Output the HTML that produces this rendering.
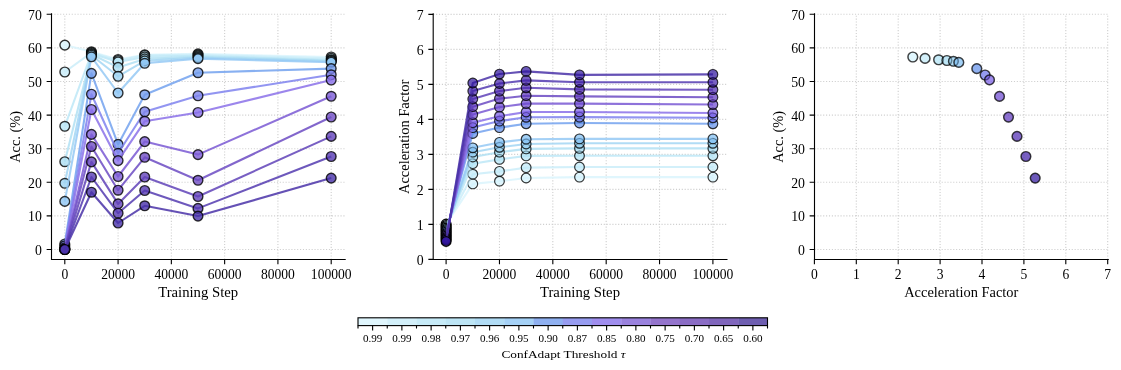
<!DOCTYPE html>
<html lang="en"><head><meta charset="utf-8"><title>ConfAdapt threshold plots</title>
<style>html,body{margin:0;padding:0;background:#fff}svg{display:block}</style>
</head><body>
<svg width="1121" height="370" viewBox="0 0 1121 370" font-family='"Liberation Serif", "DejaVu Serif", serif' fill="#000">
<rect width="1121" height="370" fill="#fff"/>
<path d="M64.80 259.5V14.3M118.08 259.5V14.3M171.36 259.5V14.3M224.64 259.5V14.3M277.92 259.5V14.3M331.20 259.5V14.3M51.5 249.50H344.6M51.5 215.90H344.6M51.5 182.30H344.6M51.5 148.70H344.6M51.5 115.10H344.6M51.5 81.50H344.6M51.5 47.90H344.6M51.5 14.30H344.6" stroke="#cfcfcf" stroke-width="1.11" stroke-dasharray="1.11 1.78" fill="none"/>
<polyline points="64.80,45.10 91.44,51.80 118.08,59.50 144.72,54.85 198.00,53.90 331.20,57.00" fill="none" stroke="#dbf4fd" stroke-opacity="0.85" stroke-width="2.08" stroke-linejoin="round"/>
<g fill="#d8f4fc" fill-opacity="0.8" stroke="#000" stroke-opacity="0.8" stroke-width="1.39">
<circle cx="64.80" cy="45.10" r="4.86"/>
<circle cx="91.44" cy="51.80" r="4.86"/>
<circle cx="118.08" cy="59.50" r="4.86"/>
<circle cx="144.72" cy="54.85" r="4.86"/>
<circle cx="198.00" cy="53.90" r="4.86"/>
<circle cx="331.20" cy="57.00" r="4.86"/>
</g>
<polyline points="64.80,72.00 91.44,52.60 118.08,60.60 144.72,55.20 198.00,54.80 331.20,58.40" fill="none" stroke="#cbedf9" stroke-opacity="0.85" stroke-width="2.08" stroke-linejoin="round"/>
<g fill="#c8ecf9" fill-opacity="0.8" stroke="#000" stroke-opacity="0.8" stroke-width="1.39">
<circle cx="64.80" cy="72.00" r="4.86"/>
<circle cx="91.44" cy="52.60" r="4.86"/>
<circle cx="118.08" cy="60.60" r="4.86"/>
<circle cx="144.72" cy="55.20" r="4.86"/>
<circle cx="198.00" cy="54.80" r="4.86"/>
<circle cx="331.20" cy="58.40" r="4.86"/>
</g>
<polyline points="64.80,126.30 91.44,53.50 118.08,62.00 144.72,56.90 198.00,55.80 331.20,59.80" fill="none" stroke="#bde7f7" stroke-opacity="0.85" stroke-width="2.08" stroke-linejoin="round"/>
<g fill="#b9e6f6" fill-opacity="0.8" stroke="#000" stroke-opacity="0.8" stroke-width="1.39">
<circle cx="64.80" cy="126.30" r="4.86"/>
<circle cx="91.44" cy="53.50" r="4.86"/>
<circle cx="118.08" cy="62.00" r="4.86"/>
<circle cx="144.72" cy="56.90" r="4.86"/>
<circle cx="198.00" cy="55.80" r="4.86"/>
<circle cx="331.20" cy="59.80" r="4.86"/>
</g>
<polyline points="64.80,161.70 91.44,54.30 118.08,67.40 144.72,58.90 198.00,56.70 331.20,60.50" fill="none" stroke="#b1e0f3" stroke-opacity="0.85" stroke-width="2.08" stroke-linejoin="round"/>
<g fill="#acdef2" fill-opacity="0.8" stroke="#000" stroke-opacity="0.8" stroke-width="1.39">
<circle cx="64.80" cy="161.70" r="4.86"/>
<circle cx="91.44" cy="54.30" r="4.86"/>
<circle cx="118.08" cy="67.40" r="4.86"/>
<circle cx="144.72" cy="58.90" r="4.86"/>
<circle cx="198.00" cy="56.70" r="4.86"/>
<circle cx="331.20" cy="60.50" r="4.86"/>
</g>
<polyline points="64.80,183.30 91.44,55.20 118.08,76.30 144.72,60.90 198.00,57.60 331.20,61.30" fill="none" stroke="#a3d6f3" stroke-opacity="0.85" stroke-width="2.08" stroke-linejoin="round"/>
<g fill="#9ed3f2" fill-opacity="0.8" stroke="#000" stroke-opacity="0.8" stroke-width="1.39">
<circle cx="64.80" cy="183.30" r="4.86"/>
<circle cx="91.44" cy="55.20" r="4.86"/>
<circle cx="118.08" cy="76.30" r="4.86"/>
<circle cx="144.72" cy="60.90" r="4.86"/>
<circle cx="198.00" cy="57.60" r="4.86"/>
<circle cx="331.20" cy="61.30" r="4.86"/>
</g>
<polyline points="64.80,201.40 91.44,56.80 118.08,93.00 144.72,63.30 198.00,58.60 331.20,62.20" fill="none" stroke="#95c9f4" stroke-opacity="0.85" stroke-width="2.08" stroke-linejoin="round"/>
<g fill="#8ec6f4" fill-opacity="0.8" stroke="#000" stroke-opacity="0.8" stroke-width="1.39">
<circle cx="64.80" cy="201.40" r="4.86"/>
<circle cx="91.44" cy="56.80" r="4.86"/>
<circle cx="118.08" cy="93.00" r="4.86"/>
<circle cx="144.72" cy="63.30" r="4.86"/>
<circle cx="198.00" cy="58.60" r="4.86"/>
<circle cx="331.20" cy="62.20" r="4.86"/>
</g>
<polyline points="64.80,244.00 91.44,73.35 118.08,144.40 144.72,94.80 198.00,72.70 331.20,68.60" fill="none" stroke="#73a2ef" stroke-opacity="0.85" stroke-width="2.08" stroke-linejoin="round"/>
<g fill="#739cec" fill-opacity="0.8" stroke="#000" stroke-opacity="0.8" stroke-width="1.39">
<circle cx="64.80" cy="244.00" r="4.86"/>
<circle cx="91.44" cy="73.35" r="4.86"/>
<circle cx="118.08" cy="144.40" r="4.86"/>
<circle cx="144.72" cy="94.80" r="4.86"/>
<circle cx="198.00" cy="72.70" r="4.86"/>
<circle cx="331.20" cy="68.60" r="4.86"/>
</g>
<polyline points="64.80,245.80 91.44,94.20 118.08,153.30 144.72,111.70 198.00,95.75 331.20,74.80" fill="none" stroke="#7f83ef" stroke-opacity="0.85" stroke-width="2.08" stroke-linejoin="round"/>
<g fill="#7d83ec" fill-opacity="0.8" stroke="#000" stroke-opacity="0.8" stroke-width="1.39">
<circle cx="64.80" cy="245.80" r="4.86"/>
<circle cx="91.44" cy="94.20" r="4.86"/>
<circle cx="118.08" cy="153.30" r="4.86"/>
<circle cx="144.72" cy="111.70" r="4.86"/>
<circle cx="198.00" cy="95.75" r="4.86"/>
<circle cx="331.20" cy="74.80" r="4.86"/>
</g>
<polyline points="64.80,247.80 91.44,109.50 118.08,160.60 144.72,121.30 198.00,112.50 331.20,80.00" fill="none" stroke="#8b71e9" stroke-opacity="0.85" stroke-width="2.08" stroke-linejoin="round"/>
<g fill="#886fea" fill-opacity="0.8" stroke="#000" stroke-opacity="0.8" stroke-width="1.39">
<circle cx="64.80" cy="247.80" r="4.86"/>
<circle cx="91.44" cy="109.50" r="4.86"/>
<circle cx="118.08" cy="160.60" r="4.86"/>
<circle cx="144.72" cy="121.30" r="4.86"/>
<circle cx="198.00" cy="112.50" r="4.86"/>
<circle cx="331.20" cy="80.00" r="4.86"/>
</g>
<polyline points="64.80,249.00 91.44,134.40 118.08,176.50 144.72,141.60 198.00,154.60 331.20,96.30" fill="none" stroke="#7a59d3" stroke-opacity="0.85" stroke-width="2.08" stroke-linejoin="round"/>
<g fill="#7c5bd6" fill-opacity="0.8" stroke="#000" stroke-opacity="0.8" stroke-width="1.39">
<circle cx="64.80" cy="249.00" r="4.86"/>
<circle cx="91.44" cy="134.40" r="4.86"/>
<circle cx="118.08" cy="176.50" r="4.86"/>
<circle cx="144.72" cy="141.60" r="4.86"/>
<circle cx="198.00" cy="154.60" r="4.86"/>
<circle cx="331.20" cy="96.30" r="4.86"/>
</g>
<polyline points="64.80,249.50 91.44,146.50 118.08,190.20 144.72,157.30 198.00,180.30 331.20,117.00" fill="none" stroke="#6c4bc3" stroke-opacity="0.85" stroke-width="2.08" stroke-linejoin="round"/>
<g fill="#6f4cc4" fill-opacity="0.8" stroke="#000" stroke-opacity="0.8" stroke-width="1.39">
<circle cx="64.80" cy="249.50" r="4.86"/>
<circle cx="91.44" cy="146.50" r="4.86"/>
<circle cx="118.08" cy="190.20" r="4.86"/>
<circle cx="144.72" cy="157.30" r="4.86"/>
<circle cx="198.00" cy="180.30" r="4.86"/>
<circle cx="331.20" cy="117.00" r="4.86"/>
</g>
<polyline points="64.80,249.50 91.44,161.90 118.08,203.90 144.72,177.00 198.00,196.50 331.20,136.40" fill="none" stroke="#6043b8" stroke-opacity="0.85" stroke-width="2.08" stroke-linejoin="round"/>
<g fill="#6342ba" fill-opacity="0.8" stroke="#000" stroke-opacity="0.8" stroke-width="1.39">
<circle cx="64.80" cy="249.50" r="4.86"/>
<circle cx="91.44" cy="161.90" r="4.86"/>
<circle cx="118.08" cy="203.90" r="4.86"/>
<circle cx="144.72" cy="177.00" r="4.86"/>
<circle cx="198.00" cy="196.50" r="4.86"/>
<circle cx="331.20" cy="136.40" r="4.86"/>
</g>
<polyline points="64.80,249.50 91.44,177.00 118.08,213.20 144.72,190.50 198.00,208.40 331.20,156.50" fill="none" stroke="#543bb0" stroke-opacity="0.85" stroke-width="2.08" stroke-linejoin="round"/>
<g fill="#563ab3" fill-opacity="0.8" stroke="#000" stroke-opacity="0.8" stroke-width="1.39">
<circle cx="64.80" cy="249.50" r="4.86"/>
<circle cx="91.44" cy="177.00" r="4.86"/>
<circle cx="118.08" cy="213.20" r="4.86"/>
<circle cx="144.72" cy="190.50" r="4.86"/>
<circle cx="198.00" cy="208.40" r="4.86"/>
<circle cx="331.20" cy="156.50" r="4.86"/>
</g>
<polyline points="64.80,249.50 91.44,192.20 118.08,223.00 144.72,205.80 198.00,216.10 331.20,178.10" fill="none" stroke="#4a33a8" stroke-opacity="0.85" stroke-width="2.08" stroke-linejoin="round"/>
<g fill="#4731a9" fill-opacity="0.8" stroke="#000" stroke-opacity="0.8" stroke-width="1.39">
<circle cx="64.80" cy="249.50" r="4.86"/>
<circle cx="91.44" cy="192.20" r="4.86"/>
<circle cx="118.08" cy="223.00" r="4.86"/>
<circle cx="144.72" cy="205.80" r="4.86"/>
<circle cx="198.00" cy="216.10" r="4.86"/>
<circle cx="331.20" cy="178.10" r="4.86"/>
</g>
<path d="M64.80 259.5v4.86M118.08 259.5v4.86M171.36 259.5v4.86M224.64 259.5v4.86M277.92 259.5v4.86M331.20 259.5v4.86M51.5 249.50h-4.86M51.5 215.90h-4.86M51.5 182.30h-4.86M51.5 148.70h-4.86M51.5 115.10h-4.86M51.5 81.50h-4.86M51.5 47.90h-4.86M51.5 14.30h-4.86" stroke="#000" stroke-width="1.11" fill="none"/>
<path d="M51.5 13.75V259.5H345.16" stroke="#000" stroke-width="1.11" fill="none" stroke-linecap="square" stroke-linejoin="miter"/>
<text x="64.8" y="279.0" font-size="13.8" text-anchor="middle" textLength="6.8" lengthAdjust="spacingAndGlyphs">0</text>
<text x="118.08" y="279.0" font-size="13.8" text-anchor="middle" textLength="33.9" lengthAdjust="spacingAndGlyphs">20000</text>
<text x="171.36" y="279.0" font-size="13.8" text-anchor="middle" textLength="33.9" lengthAdjust="spacingAndGlyphs">40000</text>
<text x="224.64" y="279.0" font-size="13.8" text-anchor="middle" textLength="33.9" lengthAdjust="spacingAndGlyphs">60000</text>
<text x="277.92" y="279.0" font-size="13.8" text-anchor="middle" textLength="33.9" lengthAdjust="spacingAndGlyphs">80000</text>
<text x="331.2" y="279.0" font-size="13.8" text-anchor="middle" textLength="40.7" lengthAdjust="spacingAndGlyphs">100000</text>
<text x="41.94" y="254.9" font-size="13.8" text-anchor="end" textLength="6.9" lengthAdjust="spacingAndGlyphs">0</text>
<text x="41.94" y="221.3" font-size="13.8" text-anchor="end" textLength="13.8" lengthAdjust="spacingAndGlyphs">10</text>
<text x="41.94" y="187.7" font-size="13.8" text-anchor="end" textLength="13.8" lengthAdjust="spacingAndGlyphs">20</text>
<text x="41.94" y="154.1" font-size="13.8" text-anchor="end" textLength="13.8" lengthAdjust="spacingAndGlyphs">30</text>
<text x="41.94" y="120.5" font-size="13.8" text-anchor="end" textLength="13.8" lengthAdjust="spacingAndGlyphs">40</text>
<text x="41.94" y="86.9" font-size="13.8" text-anchor="end" textLength="13.8" lengthAdjust="spacingAndGlyphs">50</text>
<text x="41.94" y="53.3" font-size="13.8" text-anchor="end" textLength="13.8" lengthAdjust="spacingAndGlyphs">60</text>
<text x="41.94" y="19.7" font-size="13.8" text-anchor="end" textLength="13.8" lengthAdjust="spacingAndGlyphs">70</text>
<text x="198.2" y="297.0" font-size="13.8" text-anchor="middle" textLength="80" lengthAdjust="spacingAndGlyphs">Training Step</text>
<text x="20.5" y="136.9" font-size="13.8" text-anchor="middle" textLength="51.8" lengthAdjust="spacingAndGlyphs" transform="rotate(-90 20.5 136.9)">Acc. (%)</text>
<path d="M446.10 259.5V14.3M499.46 259.5V14.3M552.82 259.5V14.3M606.18 259.5V14.3M659.54 259.5V14.3M712.90 259.5V14.3M433.2 224.40H726.4M433.2 189.40H726.4M433.2 154.40H726.4M433.2 119.40H726.4M433.2 84.40H726.4M433.2 49.40H726.4M433.2 14.40H726.4" stroke="#cfcfcf" stroke-width="1.11" stroke-dasharray="1.11 1.78" fill="none"/>
<polyline points="446.10,224.10 472.78,183.90 499.46,181.20 526.14,178.00 579.50,177.10 712.90,177.10" fill="none" stroke="#dbf4fd" stroke-opacity="0.85" stroke-width="2.08" stroke-linejoin="round"/>
<g fill="#d3f2fc" fill-opacity="0.7" stroke="#000" stroke-opacity="0.7" stroke-width="1.11">
<circle cx="446.10" cy="224.10" r="4.86" stroke-opacity="0.95" stroke-width="1.3"/>
<circle cx="472.78" cy="183.90" r="4.86"/>
<circle cx="499.46" cy="181.20" r="4.86"/>
<circle cx="526.14" cy="178.00" r="4.86"/>
<circle cx="579.50" cy="177.10" r="4.86"/>
<circle cx="712.90" cy="177.10" r="4.86"/>
</g>
<polyline points="446.10,225.43 472.78,174.20 499.46,171.40 526.14,167.60 579.50,167.00 712.90,167.00" fill="none" stroke="#cbedf9" stroke-opacity="0.85" stroke-width="2.08" stroke-linejoin="round"/>
<g fill="#c0eaf8" fill-opacity="0.7" stroke="#000" stroke-opacity="0.7" stroke-width="1.11">
<circle cx="446.10" cy="225.43" r="4.86" stroke-opacity="0.95" stroke-width="1.3"/>
<circle cx="472.78" cy="174.20" r="4.86"/>
<circle cx="499.46" cy="171.40" r="4.86"/>
<circle cx="526.14" cy="167.60" r="4.86"/>
<circle cx="579.50" cy="167.00" r="4.86"/>
<circle cx="712.90" cy="167.00" r="4.86"/>
</g>
<polyline points="446.10,226.76 472.78,163.70 499.46,159.40 526.14,155.90 579.50,155.80 712.90,155.80" fill="none" stroke="#bde7f7" stroke-opacity="0.85" stroke-width="2.08" stroke-linejoin="round"/>
<g fill="#afe2f5" fill-opacity="0.7" stroke="#000" stroke-opacity="0.7" stroke-width="1.11">
<circle cx="446.10" cy="226.76" r="4.86" stroke-opacity="0.95" stroke-width="1.3"/>
<circle cx="472.78" cy="163.70" r="4.86"/>
<circle cx="499.46" cy="159.40" r="4.86"/>
<circle cx="526.14" cy="155.90" r="4.86"/>
<circle cx="579.50" cy="155.80" r="4.86"/>
<circle cx="712.90" cy="155.80" r="4.86"/>
</g>
<polyline points="446.10,228.09 472.78,157.00 499.46,152.20 526.14,148.90 579.50,148.40 712.90,148.40" fill="none" stroke="#b1e0f3" stroke-opacity="0.85" stroke-width="2.08" stroke-linejoin="round"/>
<g fill="#a1daf1" fill-opacity="0.7" stroke="#000" stroke-opacity="0.7" stroke-width="1.11">
<circle cx="446.10" cy="228.09" r="4.86" stroke-opacity="0.95" stroke-width="1.3"/>
<circle cx="472.78" cy="157.00" r="4.86"/>
<circle cx="499.46" cy="152.20" r="4.86"/>
<circle cx="526.14" cy="148.90" r="4.86"/>
<circle cx="579.50" cy="148.40" r="4.86"/>
<circle cx="712.90" cy="148.40" r="4.86"/>
</g>
<polyline points="446.10,229.42 472.78,152.20 499.46,147.30 526.14,144.00 579.50,143.30 712.90,143.30" fill="none" stroke="#a3d6f3" stroke-opacity="0.85" stroke-width="2.08" stroke-linejoin="round"/>
<g fill="#90cdf1" fill-opacity="0.7" stroke="#000" stroke-opacity="0.7" stroke-width="1.11">
<circle cx="446.10" cy="229.42" r="4.86" stroke-opacity="0.95" stroke-width="1.3"/>
<circle cx="472.78" cy="152.20" r="4.86"/>
<circle cx="499.46" cy="147.30" r="4.86"/>
<circle cx="526.14" cy="144.00" r="4.86"/>
<circle cx="579.50" cy="143.30" r="4.86"/>
<circle cx="712.90" cy="143.30" r="4.86"/>
</g>
<polyline points="446.10,230.75 472.78,147.80 499.46,142.40 526.14,139.20 579.50,138.90 712.90,138.90" fill="none" stroke="#95c9f4" stroke-opacity="0.85" stroke-width="2.08" stroke-linejoin="round"/>
<g fill="#7ebdf2" fill-opacity="0.7" stroke="#000" stroke-opacity="0.7" stroke-width="1.11">
<circle cx="446.10" cy="230.75" r="4.86" stroke-opacity="0.95" stroke-width="1.3"/>
<circle cx="472.78" cy="147.80" r="4.86"/>
<circle cx="499.46" cy="142.40" r="4.86"/>
<circle cx="526.14" cy="139.20" r="4.86"/>
<circle cx="579.50" cy="138.90" r="4.86"/>
<circle cx="712.90" cy="138.90" r="4.86"/>
</g>
<polyline points="446.10,232.08 472.78,133.50 499.46,127.60 526.14,123.80 579.50,123.00 712.90,123.80" fill="none" stroke="#73a2ef" stroke-opacity="0.85" stroke-width="2.08" stroke-linejoin="round"/>
<g fill="#5f8eea" fill-opacity="0.7" stroke="#000" stroke-opacity="0.7" stroke-width="1.11">
<circle cx="446.10" cy="232.08" r="4.86" stroke-opacity="0.95" stroke-width="1.3"/>
<circle cx="472.78" cy="133.50" r="4.86"/>
<circle cx="499.46" cy="127.60" r="4.86"/>
<circle cx="526.14" cy="123.80" r="4.86"/>
<circle cx="579.50" cy="123.00" r="4.86"/>
<circle cx="712.90" cy="123.80" r="4.86"/>
</g>
<polyline points="446.10,233.41 472.78,127.60 499.46,121.10 526.14,117.30 579.50,117.10 712.90,117.80" fill="none" stroke="#7f83ef" stroke-opacity="0.85" stroke-width="2.08" stroke-linejoin="round"/>
<g fill="#6a72ea" fill-opacity="0.7" stroke="#000" stroke-opacity="0.7" stroke-width="1.11">
<circle cx="446.10" cy="233.41" r="4.86" stroke-opacity="0.95" stroke-width="1.3"/>
<circle cx="472.78" cy="127.60" r="4.86"/>
<circle cx="499.46" cy="121.10" r="4.86"/>
<circle cx="526.14" cy="117.30" r="4.86"/>
<circle cx="579.50" cy="117.10" r="4.86"/>
<circle cx="712.90" cy="117.80" r="4.86"/>
</g>
<polyline points="446.10,234.74 472.78,122.70 499.46,116.20 526.14,112.00 579.50,111.95 712.90,113.00" fill="none" stroke="#8b71e9" stroke-opacity="0.85" stroke-width="2.08" stroke-linejoin="round"/>
<g fill="#775be7" fill-opacity="0.7" stroke="#000" stroke-opacity="0.7" stroke-width="1.11">
<circle cx="446.10" cy="234.74" r="4.86" stroke-opacity="0.95" stroke-width="1.3"/>
<circle cx="472.78" cy="122.70" r="4.86"/>
<circle cx="499.46" cy="116.20" r="4.86"/>
<circle cx="526.14" cy="112.00" r="4.86"/>
<circle cx="579.50" cy="111.95" r="4.86"/>
<circle cx="712.90" cy="113.00" r="4.86"/>
</g>
<polyline points="446.10,236.07 472.78,114.60 499.46,107.10 526.14,103.60 579.50,103.60 712.90,104.55" fill="none" stroke="#7a59d3" stroke-opacity="0.85" stroke-width="2.08" stroke-linejoin="round"/>
<g fill="#6944d0" fill-opacity="0.7" stroke="#000" stroke-opacity="0.7" stroke-width="1.11">
<circle cx="446.10" cy="236.07" r="4.86" stroke-opacity="0.95" stroke-width="1.3"/>
<circle cx="472.78" cy="114.60" r="4.86"/>
<circle cx="499.46" cy="107.10" r="4.86"/>
<circle cx="526.14" cy="103.60" r="4.86"/>
<circle cx="579.50" cy="103.60" r="4.86"/>
<circle cx="712.90" cy="104.55" r="4.86"/>
</g>
<polyline points="446.10,237.40 472.78,106.70 499.46,98.60 526.14,95.70 579.50,96.40 712.90,97.20" fill="none" stroke="#6c4bc3" stroke-opacity="0.85" stroke-width="2.08" stroke-linejoin="round"/>
<g fill="#5b33bc" fill-opacity="0.7" stroke="#000" stroke-opacity="0.7" stroke-width="1.11">
<circle cx="446.10" cy="237.40" r="4.86" stroke-opacity="0.95" stroke-width="1.3"/>
<circle cx="472.78" cy="106.70" r="4.86"/>
<circle cx="499.46" cy="98.60" r="4.86"/>
<circle cx="526.14" cy="95.70" r="4.86"/>
<circle cx="579.50" cy="96.40" r="4.86"/>
<circle cx="712.90" cy="97.20" r="4.86"/>
</g>
<polyline points="446.10,238.73 472.78,99.00 499.46,91.10 526.14,87.80 579.50,89.40 712.90,89.70" fill="none" stroke="#6043b8" stroke-opacity="0.85" stroke-width="2.08" stroke-linejoin="round"/>
<g fill="#4c27b0" fill-opacity="0.7" stroke="#000" stroke-opacity="0.7" stroke-width="1.11">
<circle cx="446.10" cy="238.73" r="4.86" stroke-opacity="0.95" stroke-width="1.3"/>
<circle cx="472.78" cy="99.00" r="4.86"/>
<circle cx="499.46" cy="91.10" r="4.86"/>
<circle cx="526.14" cy="87.80" r="4.86"/>
<circle cx="579.50" cy="89.40" r="4.86"/>
<circle cx="712.90" cy="89.70" r="4.86"/>
</g>
<polyline points="446.10,240.06 472.78,91.10 499.46,83.50 526.14,80.40 579.50,82.30 712.90,82.30" fill="none" stroke="#543bb0" stroke-opacity="0.85" stroke-width="2.08" stroke-linejoin="round"/>
<g fill="#3e1da8" fill-opacity="0.7" stroke="#000" stroke-opacity="0.7" stroke-width="1.11">
<circle cx="446.10" cy="240.06" r="4.86" stroke-opacity="0.95" stroke-width="1.3"/>
<circle cx="472.78" cy="91.10" r="4.86"/>
<circle cx="499.46" cy="83.50" r="4.86"/>
<circle cx="526.14" cy="80.40" r="4.86"/>
<circle cx="579.50" cy="82.30" r="4.86"/>
<circle cx="712.90" cy="82.30" r="4.86"/>
</g>
<polyline points="446.10,241.39 472.78,83.00 499.46,74.05 526.14,71.40 579.50,74.90 712.90,74.40" fill="none" stroke="#4a33a8" stroke-opacity="0.85" stroke-width="2.08" stroke-linejoin="round"/>
<g fill="#2d139c" fill-opacity="0.7" stroke="#000" stroke-opacity="0.7" stroke-width="1.11">
<circle cx="446.10" cy="241.39" r="4.86" stroke-opacity="0.95" stroke-width="1.3"/>
<circle cx="472.78" cy="83.00" r="4.86"/>
<circle cx="499.46" cy="74.05" r="4.86"/>
<circle cx="526.14" cy="71.40" r="4.86"/>
<circle cx="579.50" cy="74.90" r="4.86"/>
<circle cx="712.90" cy="74.40" r="4.86"/>
</g>
<g fill="none" stroke="#000" stroke-opacity="0.25" stroke-width="1.11">
<circle cx="472.78" cy="183.90" r="4.86"/>
<circle cx="499.46" cy="181.20" r="4.86"/>
<circle cx="526.14" cy="178.00" r="4.86"/>
<circle cx="579.50" cy="177.10" r="4.86"/>
<circle cx="712.90" cy="177.10" r="4.86"/>
<circle cx="472.78" cy="174.20" r="4.86"/>
<circle cx="499.46" cy="171.40" r="4.86"/>
<circle cx="526.14" cy="167.60" r="4.86"/>
<circle cx="579.50" cy="167.00" r="4.86"/>
<circle cx="712.90" cy="167.00" r="4.86"/>
<circle cx="472.78" cy="163.70" r="4.86"/>
<circle cx="499.46" cy="159.40" r="4.86"/>
<circle cx="526.14" cy="155.90" r="4.86"/>
<circle cx="579.50" cy="155.80" r="4.86"/>
<circle cx="712.90" cy="155.80" r="4.86"/>
<circle cx="472.78" cy="157.00" r="4.86"/>
<circle cx="499.46" cy="152.20" r="4.86"/>
<circle cx="526.14" cy="148.90" r="4.86"/>
<circle cx="579.50" cy="148.40" r="4.86"/>
<circle cx="712.90" cy="148.40" r="4.86"/>
<circle cx="472.78" cy="152.20" r="4.86"/>
<circle cx="499.46" cy="147.30" r="4.86"/>
<circle cx="526.14" cy="144.00" r="4.86"/>
<circle cx="579.50" cy="143.30" r="4.86"/>
<circle cx="712.90" cy="143.30" r="4.86"/>
<circle cx="472.78" cy="147.80" r="4.86"/>
<circle cx="499.46" cy="142.40" r="4.86"/>
<circle cx="526.14" cy="139.20" r="4.86"/>
<circle cx="579.50" cy="138.90" r="4.86"/>
<circle cx="712.90" cy="138.90" r="4.86"/>
<circle cx="472.78" cy="133.50" r="4.86"/>
<circle cx="499.46" cy="127.60" r="4.86"/>
<circle cx="526.14" cy="123.80" r="4.86"/>
<circle cx="579.50" cy="123.00" r="4.86"/>
<circle cx="712.90" cy="123.80" r="4.86"/>
<circle cx="472.78" cy="127.60" r="4.86"/>
<circle cx="499.46" cy="121.10" r="4.86"/>
<circle cx="526.14" cy="117.30" r="4.86"/>
<circle cx="579.50" cy="117.10" r="4.86"/>
<circle cx="712.90" cy="117.80" r="4.86"/>
<circle cx="472.78" cy="122.70" r="4.86"/>
<circle cx="499.46" cy="116.20" r="4.86"/>
<circle cx="526.14" cy="112.00" r="4.86"/>
<circle cx="579.50" cy="111.95" r="4.86"/>
<circle cx="712.90" cy="113.00" r="4.86"/>
<circle cx="472.78" cy="114.60" r="4.86"/>
<circle cx="499.46" cy="107.10" r="4.86"/>
<circle cx="526.14" cy="103.60" r="4.86"/>
<circle cx="579.50" cy="103.60" r="4.86"/>
<circle cx="712.90" cy="104.55" r="4.86"/>
<circle cx="472.78" cy="106.70" r="4.86"/>
<circle cx="499.46" cy="98.60" r="4.86"/>
<circle cx="526.14" cy="95.70" r="4.86"/>
<circle cx="579.50" cy="96.40" r="4.86"/>
<circle cx="712.90" cy="97.20" r="4.86"/>
<circle cx="472.78" cy="99.00" r="4.86"/>
<circle cx="499.46" cy="91.10" r="4.86"/>
<circle cx="526.14" cy="87.80" r="4.86"/>
<circle cx="579.50" cy="89.40" r="4.86"/>
<circle cx="712.90" cy="89.70" r="4.86"/>
<circle cx="472.78" cy="91.10" r="4.86"/>
<circle cx="499.46" cy="83.50" r="4.86"/>
<circle cx="526.14" cy="80.40" r="4.86"/>
<circle cx="579.50" cy="82.30" r="4.86"/>
<circle cx="712.90" cy="82.30" r="4.86"/>
<circle cx="472.78" cy="83.00" r="4.86"/>
<circle cx="499.46" cy="74.05" r="4.86"/>
<circle cx="526.14" cy="71.40" r="4.86"/>
<circle cx="579.50" cy="74.90" r="4.86"/>
<circle cx="712.90" cy="74.40" r="4.86"/>
</g>
<path d="M446.10 259.5v4.86M499.46 259.5v4.86M552.82 259.5v4.86M606.18 259.5v4.86M659.54 259.5v4.86M712.90 259.5v4.86M433.2 259.40h-4.86M433.2 224.40h-4.86M433.2 189.40h-4.86M433.2 154.40h-4.86M433.2 119.40h-4.86M433.2 84.40h-4.86M433.2 49.40h-4.86M433.2 14.40h-4.86" stroke="#000" stroke-width="1.11" fill="none"/>
<path d="M433.2 13.75V259.5H726.95" stroke="#000" stroke-width="1.11" fill="none" stroke-linecap="square" stroke-linejoin="miter"/>
<text x="446.1" y="279.0" font-size="13.8" text-anchor="middle" textLength="6.8" lengthAdjust="spacingAndGlyphs">0</text>
<text x="499.46" y="279.0" font-size="13.8" text-anchor="middle" textLength="33.9" lengthAdjust="spacingAndGlyphs">20000</text>
<text x="552.82" y="279.0" font-size="13.8" text-anchor="middle" textLength="33.9" lengthAdjust="spacingAndGlyphs">40000</text>
<text x="606.18" y="279.0" font-size="13.8" text-anchor="middle" textLength="33.9" lengthAdjust="spacingAndGlyphs">60000</text>
<text x="659.54" y="279.0" font-size="13.8" text-anchor="middle" textLength="33.9" lengthAdjust="spacingAndGlyphs">80000</text>
<text x="712.9" y="279.0" font-size="13.8" text-anchor="middle" textLength="40.7" lengthAdjust="spacingAndGlyphs">100000</text>
<text x="423.64" y="264.8" font-size="13.8" text-anchor="end" textLength="6.9" lengthAdjust="spacingAndGlyphs">0</text>
<text x="423.64" y="229.8" font-size="13.8" text-anchor="end" textLength="6.9" lengthAdjust="spacingAndGlyphs">1</text>
<text x="423.64" y="194.8" font-size="13.8" text-anchor="end" textLength="6.9" lengthAdjust="spacingAndGlyphs">2</text>
<text x="423.64" y="159.8" font-size="13.8" text-anchor="end" textLength="6.9" lengthAdjust="spacingAndGlyphs">3</text>
<text x="423.64" y="124.8" font-size="13.8" text-anchor="end" textLength="6.9" lengthAdjust="spacingAndGlyphs">4</text>
<text x="423.64" y="89.8" font-size="13.8" text-anchor="end" textLength="6.9" lengthAdjust="spacingAndGlyphs">5</text>
<text x="423.64" y="54.8" font-size="13.8" text-anchor="end" textLength="6.9" lengthAdjust="spacingAndGlyphs">6</text>
<text x="423.64" y="19.8" font-size="13.8" text-anchor="end" textLength="6.9" lengthAdjust="spacingAndGlyphs">7</text>
<text x="580.0" y="297.0" font-size="13.8" text-anchor="middle" textLength="80" lengthAdjust="spacingAndGlyphs">Training Step</text>
<text x="408.8" y="136.9" font-size="13.8" text-anchor="middle" textLength="114.2" lengthAdjust="spacingAndGlyphs" transform="rotate(-90 408.8 136.9)">Acceleration Factor</text>
<path d="M856.30 259.5V14.3M898.20 259.5V14.3M940.10 259.5V14.3M982.00 259.5V14.3M1023.90 259.5V14.3M1065.80 259.5V14.3M1107.70 259.5V14.3M814.5 249.50H1107.7M814.5 215.90H1107.7M814.5 182.30H1107.7M814.5 148.70H1107.7M814.5 115.10H1107.7M814.5 81.50H1107.7M814.5 47.90H1107.7M814.5 14.30H1107.7" stroke="#cfcfcf" stroke-width="1.11" stroke-dasharray="1.11 1.78" fill="none"/>
<g stroke="#000" stroke-opacity="0.65" stroke-width="1.39" fill-opacity="0.7">
<circle cx="912.8" cy="57.0" r="4.86" fill="#d3f2fc"/>
<circle cx="925.05" cy="58.4" r="4.86" fill="#c0eaf8"/>
<circle cx="938.6" cy="59.8" r="4.86" fill="#afe2f5"/>
<circle cx="946.9" cy="60.5" r="4.86" fill="#a1daf1"/>
<circle cx="953.4" cy="61.3" r="4.86" fill="#90cdf1"/>
<circle cx="958.8" cy="62.4" r="4.86" fill="#7ebdf2"/>
<circle cx="976.8" cy="68.65" r="4.86" fill="#5f8eea"/>
<circle cx="985.1" cy="75.0" r="4.86" fill="#6a72ea"/>
<circle cx="989.5" cy="79.9" r="4.86" fill="#775be7"/>
<circle cx="999.5" cy="96.4" r="4.86" fill="#6944d0"/>
<circle cx="1008.5" cy="117.1" r="4.86" fill="#5b33bc"/>
<circle cx="1017.0" cy="136.4" r="4.86" fill="#4c27b0"/>
<circle cx="1025.9" cy="156.5" r="4.86" fill="#3e1da8"/>
<circle cx="1035.2" cy="178.1" r="4.86" fill="#2d139c"/>
</g>
<g stroke="#000" stroke-opacity="0.25" stroke-width="1.39" fill="none">
<circle cx="912.8" cy="57.0" r="4.86"/>
<circle cx="925.05" cy="58.4" r="4.86"/>
<circle cx="938.6" cy="59.8" r="4.86"/>
<circle cx="946.9" cy="60.5" r="4.86"/>
<circle cx="953.4" cy="61.3" r="4.86"/>
<circle cx="958.8" cy="62.4" r="4.86"/>
<circle cx="976.8" cy="68.65" r="4.86"/>
<circle cx="985.1" cy="75.0" r="4.86"/>
<circle cx="989.5" cy="79.9" r="4.86"/>
<circle cx="999.5" cy="96.4" r="4.86"/>
<circle cx="1008.5" cy="117.1" r="4.86"/>
<circle cx="1017.0" cy="136.4" r="4.86"/>
<circle cx="1025.9" cy="156.5" r="4.86"/>
<circle cx="1035.2" cy="178.1" r="4.86"/>
</g>
<path d="M814.40 259.5v4.86M856.30 259.5v4.86M898.20 259.5v4.86M940.10 259.5v4.86M982.00 259.5v4.86M1023.90 259.5v4.86M1065.80 259.5v4.86M1107.70 259.5v4.86M814.5 249.50h-4.86M814.5 215.90h-4.86M814.5 182.30h-4.86M814.5 148.70h-4.86M814.5 115.10h-4.86M814.5 81.50h-4.86M814.5 47.90h-4.86M814.5 14.30h-4.86" stroke="#000" stroke-width="1.11" fill="none"/>
<path d="M814.5 13.75V259.5H1108.26" stroke="#000" stroke-width="1.11" fill="none" stroke-linecap="square" stroke-linejoin="miter"/>
<text x="814.4" y="279.0" font-size="13.8" text-anchor="middle" textLength="6.8" lengthAdjust="spacingAndGlyphs">0</text>
<text x="856.3" y="279.0" font-size="13.8" text-anchor="middle" textLength="6.8" lengthAdjust="spacingAndGlyphs">1</text>
<text x="898.2" y="279.0" font-size="13.8" text-anchor="middle" textLength="6.8" lengthAdjust="spacingAndGlyphs">2</text>
<text x="940.1" y="279.0" font-size="13.8" text-anchor="middle" textLength="6.8" lengthAdjust="spacingAndGlyphs">3</text>
<text x="982.0" y="279.0" font-size="13.8" text-anchor="middle" textLength="6.8" lengthAdjust="spacingAndGlyphs">4</text>
<text x="1023.9" y="279.0" font-size="13.8" text-anchor="middle" textLength="6.8" lengthAdjust="spacingAndGlyphs">5</text>
<text x="1065.8" y="279.0" font-size="13.8" text-anchor="middle" textLength="6.8" lengthAdjust="spacingAndGlyphs">6</text>
<text x="1107.7" y="279.0" font-size="13.8" text-anchor="middle" textLength="6.8" lengthAdjust="spacingAndGlyphs">7</text>
<text x="804.94" y="254.9" font-size="13.8" text-anchor="end" textLength="6.9" lengthAdjust="spacingAndGlyphs">0</text>
<text x="804.94" y="221.3" font-size="13.8" text-anchor="end" textLength="13.8" lengthAdjust="spacingAndGlyphs">10</text>
<text x="804.94" y="187.7" font-size="13.8" text-anchor="end" textLength="13.8" lengthAdjust="spacingAndGlyphs">20</text>
<text x="804.94" y="154.1" font-size="13.8" text-anchor="end" textLength="13.8" lengthAdjust="spacingAndGlyphs">30</text>
<text x="804.94" y="120.5" font-size="13.8" text-anchor="end" textLength="13.8" lengthAdjust="spacingAndGlyphs">40</text>
<text x="804.94" y="86.9" font-size="13.8" text-anchor="end" textLength="13.8" lengthAdjust="spacingAndGlyphs">50</text>
<text x="804.94" y="53.3" font-size="13.8" text-anchor="end" textLength="13.8" lengthAdjust="spacingAndGlyphs">60</text>
<text x="804.94" y="19.7" font-size="13.8" text-anchor="end" textLength="13.8" lengthAdjust="spacingAndGlyphs">70</text>
<text x="961.3" y="297.0" font-size="13.8" text-anchor="middle" textLength="114.2" lengthAdjust="spacingAndGlyphs">Acceleration Factor</text>
<text x="783.4" y="136.9" font-size="13.8" text-anchor="middle" textLength="51.8" lengthAdjust="spacingAndGlyphs" transform="rotate(-90 783.4 136.9)">Acc. (%)</text>
<rect x="358.00" y="317.8" width="29.55" height="7.80" fill="#e0f6fd"/>
<rect x="387.25" y="317.8" width="29.55" height="7.80" fill="#d3f0fa"/>
<rect x="416.50" y="317.8" width="29.55" height="7.80" fill="#c7ebf8"/>
<rect x="445.75" y="317.8" width="29.55" height="7.80" fill="#bde5f5"/>
<rect x="475.00" y="317.8" width="29.55" height="7.80" fill="#b1dcf5"/>
<rect x="504.25" y="317.8" width="29.55" height="7.80" fill="#a5d1f6"/>
<rect x="533.50" y="317.8" width="29.55" height="7.80" fill="#8fb0f0"/>
<rect x="562.75" y="317.8" width="29.55" height="7.80" fill="#979cf0"/>
<rect x="592.00" y="317.8" width="29.55" height="7.80" fill="#a08eee"/>
<rect x="621.25" y="317.8" width="29.55" height="7.80" fill="#9a82de"/>
<rect x="650.50" y="317.8" width="29.55" height="7.80" fill="#9474cc"/>
<rect x="679.75" y="317.8" width="29.55" height="7.80" fill="#8a6cc4"/>
<rect x="709.00" y="317.8" width="29.55" height="7.80" fill="#8066bc"/>
<rect x="738.25" y="317.8" width="29.55" height="7.80" fill="#6e5eb0"/>
<path d="M372.62 325.6v4.86M401.88 325.6v4.86M431.12 325.6v4.86M460.38 325.6v4.86M489.62 325.6v4.86M518.88 325.6v4.86M548.12 325.6v4.86M577.38 325.6v4.86M606.62 325.6v4.86M635.88 325.6v4.86M665.12 325.6v4.86M694.38 325.6v4.86M723.62 325.6v4.86M752.88 325.6v4.86M358.00 325.6v2.78M387.25 325.6v2.78M416.50 325.6v2.78M445.75 325.6v2.78M475.00 325.6v2.78M504.25 325.6v2.78M533.50 325.6v2.78M562.75 325.6v2.78M592.00 325.6v2.78M621.25 325.6v2.78M650.50 325.6v2.78M679.75 325.6v2.78M709.00 325.6v2.78M738.25 325.6v2.78M767.50 325.6v2.78" stroke="#000" stroke-width="1.11" fill="none"/>
<rect x="358.0" y="317.8" width="409.5" height="7.80" fill="none" stroke="#000" stroke-width="1.11"/>
<text x="372.62" y="341.6" font-size="9.6" text-anchor="middle" textLength="19.4" lengthAdjust="spacingAndGlyphs">0.99</text>
<text x="401.88" y="341.6" font-size="9.6" text-anchor="middle" textLength="19.4" lengthAdjust="spacingAndGlyphs">0.99</text>
<text x="431.12" y="341.6" font-size="9.6" text-anchor="middle" textLength="19.4" lengthAdjust="spacingAndGlyphs">0.98</text>
<text x="460.38" y="341.6" font-size="9.6" text-anchor="middle" textLength="19.4" lengthAdjust="spacingAndGlyphs">0.97</text>
<text x="489.62" y="341.6" font-size="9.6" text-anchor="middle" textLength="19.4" lengthAdjust="spacingAndGlyphs">0.96</text>
<text x="518.88" y="341.6" font-size="9.6" text-anchor="middle" textLength="19.4" lengthAdjust="spacingAndGlyphs">0.95</text>
<text x="548.12" y="341.6" font-size="9.6" text-anchor="middle" textLength="19.4" lengthAdjust="spacingAndGlyphs">0.90</text>
<text x="577.38" y="341.6" font-size="9.6" text-anchor="middle" textLength="19.4" lengthAdjust="spacingAndGlyphs">0.87</text>
<text x="606.62" y="341.6" font-size="9.6" text-anchor="middle" textLength="19.4" lengthAdjust="spacingAndGlyphs">0.85</text>
<text x="635.88" y="341.6" font-size="9.6" text-anchor="middle" textLength="19.4" lengthAdjust="spacingAndGlyphs">0.80</text>
<text x="665.12" y="341.6" font-size="9.6" text-anchor="middle" textLength="19.4" lengthAdjust="spacingAndGlyphs">0.75</text>
<text x="694.38" y="341.6" font-size="9.6" text-anchor="middle" textLength="19.4" lengthAdjust="spacingAndGlyphs">0.70</text>
<text x="723.62" y="341.6" font-size="9.6" text-anchor="middle" textLength="19.4" lengthAdjust="spacingAndGlyphs">0.65</text>
<text x="752.88" y="341.6" font-size="9.6" text-anchor="middle" textLength="19.4" lengthAdjust="spacingAndGlyphs">0.60</text>
<text x="501.4" y="358" font-size="11.3" textLength="124.2" lengthAdjust="spacingAndGlyphs">ConfAdapt Threshold <tspan font-style="italic">τ</tspan></text>
</svg>
</body></html>
